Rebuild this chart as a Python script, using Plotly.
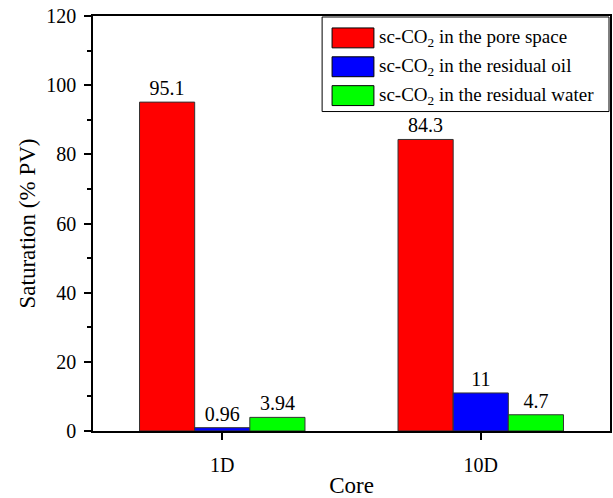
import plotly.graph_objects as go

# Saturation of supercritical CO2 per core sample
cores = ["1D", "10D"]
series_names = [
    "sc-CO<sub>2</sub> in the pore space",
    "sc-CO<sub>2</sub> in the residual oil",
    "sc-CO<sub>2</sub> in the residual water",
]
pore_space = [95.1, 84.3]
residual_oil = [0.96, 11]
residual_water = [3.94, 4.7]
series_values = [pore_space, residual_oil, residual_water]
series_colors = ["#FF0000", "#0000FF", "#00FF00"]
value_labels = [["95.1", "84.3"], ["0.96", "11"], ["3.94", "4.7"]]

FONT = "Liberation Serif"

fig = go.Figure()
for name, vals, col, labs in zip(series_names, series_values, series_colors, value_labels):
    fig.add_trace(go.Bar(
        x=cores, y=vals, name=name,
        marker=dict(color=col, line=dict(color="#333333", width=1)),
        text=labs, textposition="outside", cliponaxis=False,
        constraintext="none",
        textfont=dict(family=FONT, size=20, color="black"),
        showlegend=False,
    ))

# Boxed legend with wide colour swatches (pixel-based layout on paper coords)
W, H = 613, 498
ML, MR, MT, MB = 93, 1, 16, 65
PW, PH = W - ML - MR, H - MT - MB


def px(xp):
    return (xp - ML) / PW


def py(yp):
    return (H - MB - yp) / PH


shapes = [dict(type="rect", xref="paper", yref="paper",
               x0=px(323), x1=px(611), y0=py(112), y1=py(17),
               line=dict(color="black", width=1), fillcolor="white", layer="above")]
annotations = []
row_centers = [38, 67, 96]
for name, col, yc in zip(series_names, series_colors, row_centers):
    shapes.append(dict(type="rect", xref="paper", yref="paper",
                       x0=px(333), x1=px(375), y0=py(yc + 10), y1=py(yc - 10),
                       line=dict(color="black", width=1), fillcolor=col, layer="above"))
    annotations.append(dict(xref="paper", yref="paper", x=px(378), y=py(yc),
                            xanchor="left", yanchor="middle", showarrow=False,
                            text=name, font=dict(family=FONT, size=19, color="black")))

fig.update_layout(
    width=W, height=H,
    margin=dict(l=ML, r=MR, t=MT, b=MB),
    paper_bgcolor="white", plot_bgcolor="white",
    barmode="group", bargap=0.36, bargroupgap=0,
    font=dict(family=FONT, size=20, color="black"),
    shapes=shapes, annotations=annotations,
)
fig.update_xaxes(
    range=[-0.5, 1.5],
    showline=True, linecolor="black", linewidth=1.5, mirror=True,
    ticks="outside", ticklen=7, tickwidth=1.5, tickcolor="black",
    ticklabelstandoff=8,
    tickfont=dict(family=FONT, size=20),
    title=dict(text="Core", font=dict(family=FONT, size=23), standoff=5),
    showgrid=False, zeroline=False,
)
fig.update_yaxes(
    range=[0, 120], dtick=20, tick0=0,
    showline=True, linecolor="black", linewidth=1.5, mirror=True,
    ticks="outside", ticklen=7, tickwidth=1.5, tickcolor="black",
    minor=dict(dtick=10, ticks="outside", ticklen=4, tickwidth=1.5, tickcolor="black", showgrid=False),
    ticklabelstandoff=4,
    tickfont=dict(family=FONT, size=20),
    title=dict(text="Saturation (% PV)", font=dict(family=FONT, size=23), standoff=4),
    showgrid=False, zeroline=False,
)

fig.write_html("out.html")
